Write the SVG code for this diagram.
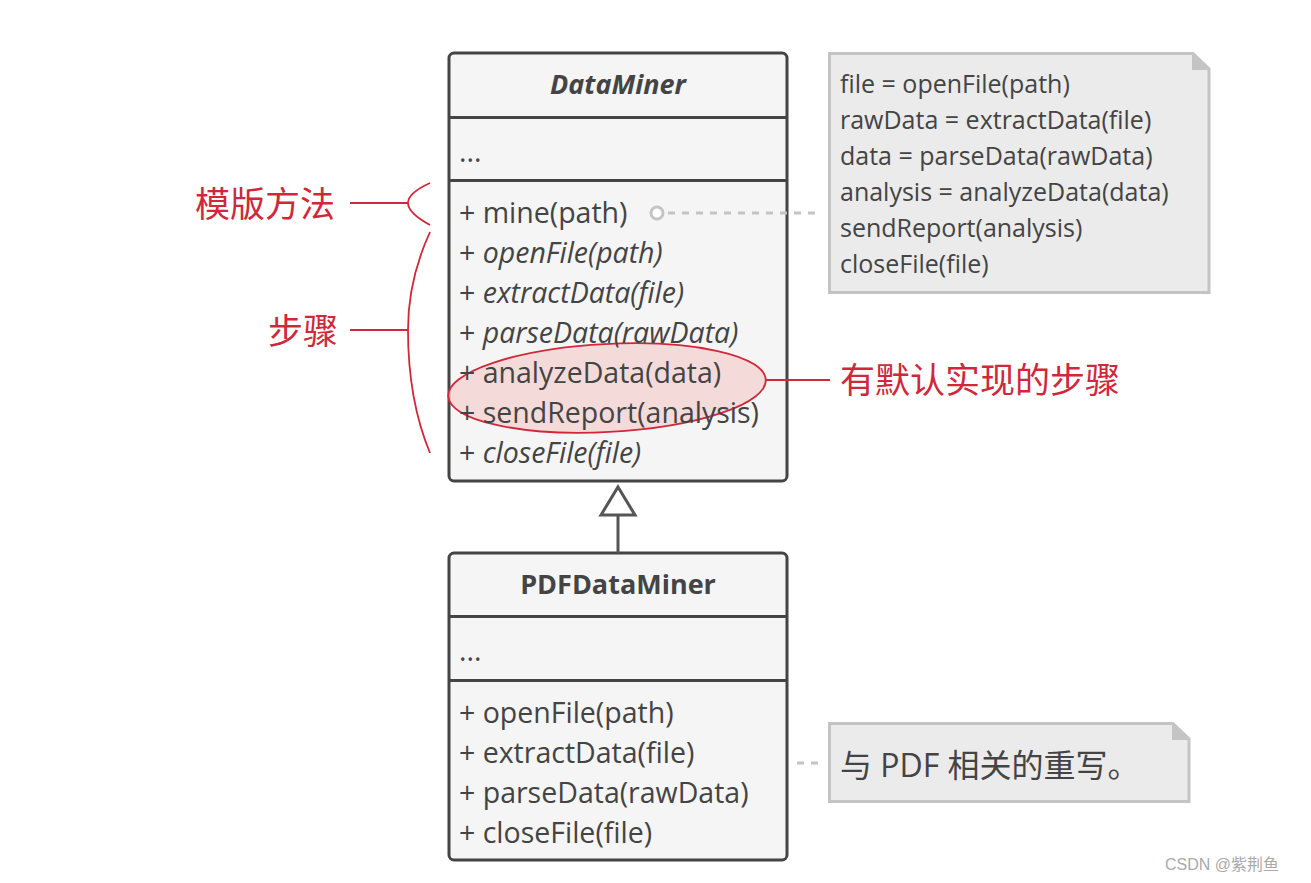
<svg xmlns="http://www.w3.org/2000/svg" width="1311" height="883" viewBox="0 0 1311 883">
<style>
.box{fill:#f5f5f5;stroke:#444;stroke-width:3}
.div{stroke:#444;stroke-width:3}
.t{font-family:"Open Sans","Noto Sans",sans-serif;font-size:25px;fill:#444}
.m{font-size:28.5px}
.i{font-style:italic}
.h{font-weight:bold;font-size:27px;text-anchor:middle}
.note{fill:#ebebeb;stroke:#c4c4c4;stroke-width:3}
.red{stroke:#d0283a;stroke-width:1.8;fill:none}
.rt{font-family:"Noto Sans CJK SC",sans-serif;font-size:35px;fill:#d0283a}
.dash{stroke:#c4c4c4;stroke-width:3;stroke-dasharray:7,7;fill:none}
</style>
<rect width="1311" height="883" fill="#fff"/>
<g id="DataMiner">
<rect class="box" x="449" y="53" width="338" height="428" rx="5"/>
<line class="div" x1="449" y1="117.5" x2="787" y2="117.5"/>
<line class="div" x1="449" y1="180.5" x2="787" y2="180.5"/>
<ellipse cx="607" cy="388" rx="159" ry="44" transform="rotate(-3 607 388)" fill="#f5cfcf" fill-opacity="0.7" stroke="#d0283a" stroke-width="1.8"/>
<text class="t h i" x="618" y="94">DataMiner</text>
<text class="t m" x="459" y="162">...</text>
<text class="t m" x="459" y="223">+ mine(path)</text>
<text class="t m" x="459" y="263">+ <tspan class="i">openFile(path)</tspan></text>
<text class="t m" x="459" y="303">+ <tspan class="i">extractData(file)</tspan></text>
<text class="t m" x="459" y="343">+ <tspan class="i">parseData(rawData)</tspan></text>
<text class="t m" x="459" y="383">+ analyzeData(data)</text>
<text class="t m" x="459" y="423">+ sendReport(analysis)</text>
<text class="t m" x="459" y="463">+ <tspan class="i">closeFile(file)</tspan></text>
</g>
<g id="PDFDataMiner">
<rect class="box" x="449" y="553" width="338" height="307" rx="5"/>
<line class="div" x1="449" y1="616.5" x2="787" y2="616.5"/>
<line class="div" x1="449" y1="680.5" x2="787" y2="680.5"/>
<text class="t h" x="618" y="594">PDFDataMiner</text>
<text class="t m" x="459" y="661">...</text>
<text class="t m" x="459" y="723">+ openFile(path)</text>
<text class="t m" x="459" y="763">+ extractData(file)</text>
<text class="t m" x="459" y="803">+ parseData(rawData)</text>
<text class="t m" x="459" y="843">+ closeFile(file)</text>
</g>
<g id="note1">
<path class="note" d="M829.5 53.5 H1193 L1209 69 V292.5 H829.5 Z"/>
<path d="M1193 53.5 V69 H1209" fill="#c4c4c4" stroke="#c4c4c4" stroke-width="2"/>
<text class="t" x="840" y="93">file = openFile(path)</text>
<text class="t" x="840" y="129">rawData = extractData(file)</text>
<text class="t" x="840" y="165">data = parseData(rawData)</text>
<text class="t" x="840" y="201">analysis = analyzeData(data)</text>
<text class="t" x="840" y="237">sendReport(analysis)</text>
<text class="t" x="840" y="273">closeFile(file)</text>
</g>
<g id="note2">
<path class="note" d="M829.5 723.5 H1173 L1189 739 V801.5 H829.5 Z"/>
<path d="M1173 723.5 V739 H1189" fill="#c4c4c4" stroke="#c4c4c4" stroke-width="2"/>
<text class="t" x="840" y="777" style="font-family:'Open Sans','Noto Sans CJK SC',sans-serif;font-size:32px">与 PDF 相关的重写。</text>
</g>
<g id="connectors">
<line x1="618" y1="515" x2="618" y2="553" stroke="#555" stroke-width="3"/>
<path d="M618 487 L635 515 L601 515 Z" fill="#fff" stroke="#555" stroke-width="3"/>
<circle cx="657" cy="213" r="6" fill="#fff" stroke="#c4c4c4" stroke-width="3"/>
<line class="dash" x1="668" y1="213" x2="822" y2="213"/>
<line class="dash" x1="797" y1="763" x2="822" y2="763"/>
<line class="red" x1="350" y1="203" x2="408" y2="203"/>
<path class="red" d="M430 183 Q408 193 408 203 Q408 213 430 225"/>
<line class="red" x1="350" y1="330" x2="408" y2="330"/>
<path class="red" d="M430 232 Q408 280 408 330 Q408 400 430 453"/>
<line class="red" x1="766" y1="380" x2="830" y2="380"/>
</g>
<g id="labels">
<text class="rt" x="195" y="217">模版方法</text>
<text class="rt" x="268" y="344">步骤</text>
<text class="rt" x="840" y="393">有默认实现的步骤</text>
<text x="1165" y="870" font-family="'Liberation Sans','Noto Sans CJK SC',sans-serif" font-size="16" fill="#aaa">CSDN @紫荆鱼</text>
</g>
</svg>
